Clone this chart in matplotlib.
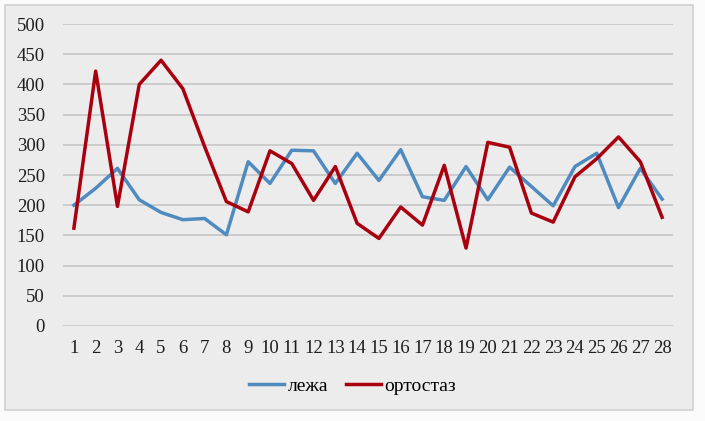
import numpy as np
import matplotlib
matplotlib.use('Agg')
import matplotlib.pyplot as plt
from matplotlib.patches import Rectangle

# data
days = list(range(1, 29))
lezha = [200, 228, 261, 209, 188, 176, 178, 151, 272, 236, 291, 290, 236, 286,
         241, 292, 214, 208, 264, 209, 263, 231, 199, 264, 286, 196, 261, 210]
ortostaz = [162, 422, 198, 400, 440, 393, 297, 206, 189, 290, 269, 208, 264, 170,
            145, 197, 167, 266, 129, 304, 296, 187, 172, 247, 277, 313, 272, 180]

plt.rcParams['font.family'] = ['Liberation Serif', 'DejaVu Serif']

fig = plt.figure(figsize=(7.05, 4.21), dpi=100)
fig.patch.set_facecolor('#fafafa')
# chart area background with thin frame
fig.patches.append(Rectangle((5 / 705, 1 - 410 / 421), 688 / 705, 405 / 421,
                             transform=fig.transFigure, facecolor='#ececec',
                             edgecolor='#d0d0d0', linewidth=1.2, zorder=-1))

ax = fig.add_axes([63 / 705, 1 - 326 / 421, 610 / 705, 302 / 421])
ax.set_facecolor('none')

ax.plot(days, lezha, color='#4f8bbf', linewidth=2.5, label='лежа')
ax.plot(days, ortostaz, color='#a8000f', linewidth=2.5, label='ортостаз')

ax.set_xlim(0.5, 28.5)
ax.set_ylim(0, 500)
ax.set_yticks(np.arange(0, 501, 50))
ax.set_xticks(days)
ax.set_xticklabels([str(d) for d in days])
ax.grid(axis='y', color='#c6c6c6', linewidth=1.2)
ax.set_axisbelow(True)
for s in ax.spines.values():
    s.set_visible(False)
ax.tick_params(axis='y', length=0, pad=13, labelsize=13.5, colors='#1e1e1e')
ax.tick_params(axis='x', length=0, pad=10, labelsize=13.5, colors='#1e1e1e')

fig.legend(loc='center', bbox_to_anchor=(0.5, 1 - 386 / 421), ncol=2,
           frameon=False, fontsize=14, handlelength=1.8, handletextpad=0.2,
           columnspacing=0.9)

fig.savefig('out.png', dpi=100, facecolor=fig.get_facecolor())
